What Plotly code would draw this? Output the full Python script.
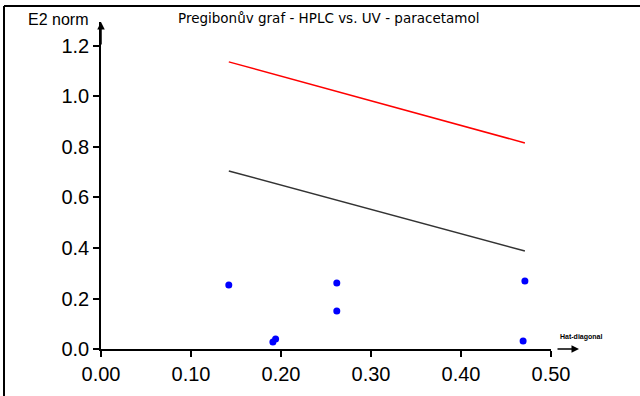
import plotly.graph_objects as go

# Data
hat_diag = [0.142, 0.191, 0.194, 0.262, 0.262, 0.471, 0.469]
e2_norm = [0.253, 0.028, 0.040, 0.261, 0.150, 0.269, 0.032]

limit_x = [0.142, 0.471]
limit_red = [1.137, 0.816]
limit_black = [0.705, 0.388]

x_ticks = [0.0, 0.1, 0.2, 0.3, 0.4, 0.5]
y_ticks = [0.0, 0.2, 0.4, 0.6, 0.8, 1.0, 1.2]

title_text = "Pregibonův graf - HPLC vs. UV - paracetamol"
y_label = "E2 norm"
x_label = "Hat-diagonal"

FONT = "Liberation Sans, Arial, sans-serif"

fig = go.Figure()
fig.add_trace(go.Scatter(x=limit_x, y=limit_red, mode="lines",
                         line=dict(color="#ff0000", width=1.5), showlegend=False))
fig.add_trace(go.Scatter(x=limit_x, y=limit_black, mode="lines",
                         line=dict(color="#333333", width=1.5), showlegend=False))
fig.add_trace(go.Scatter(x=hat_diag, y=e2_norm, mode="markers",
                         marker=dict(color="#0000ff", size=7), showlegend=False,
                         cliponaxis=False))

L, R, T, B = 101, 89, 22, 47
W, H = 640, 396
pw, ph = W - L - R, H - T - B

def px_x(p):
    return (p - L) / pw

def px_y(p):
    return (H - B - p) / ph

fig.update_layout(
    width=W, height=H, autosize=False,
    margin=dict(l=L, r=R, t=T, b=B, pad=0),
    paper_bgcolor="white", plot_bgcolor="white",
    font=dict(family=FONT, color="black"),
    xaxis=dict(range=[0, 0.5], tickvals=x_ticks, tickformat=".2f",
               showgrid=False, zeroline=False, showline=True, linecolor="black",
               linewidth=1.5, ticks="outside", ticklen=6, tickwidth=1.5,
               tickcolor="black", tickfont=dict(size=20, family=FONT)),
    yaxis=dict(range=[0, 1.295], tickvals=y_ticks, tickformat=".1f",
               showgrid=False, zeroline=False, showline=True, linecolor="black",
               linewidth=1.5, ticks="outside", ticklen=6, tickwidth=1.5,
               tickcolor="black", tickfont=dict(size=20, family=FONT)),
)

annotations = [
    dict(text=title_text, xref="paper", yref="paper", x=px_x(328), y=px_y(18),
         xanchor="center", yanchor="middle", showarrow=False,
         font=dict(size=13.5, family="DejaVu Sans, sans-serif")),
    dict(text=y_label, xref="paper", yref="paper", x=px_x(90), y=px_y(20),
         xanchor="right", yanchor="middle", showarrow=False,
         font=dict(size=16, family=FONT)),
    dict(text="<b>" + x_label + "</b>", xref="paper", yref="paper", x=px_x(581), y=px_y(337),
         xanchor="center", yanchor="middle", showarrow=False,
         font=dict(size=7, family=FONT, color="black")),
    # y-axis arrow head
    dict(x=0, y=1.295, ax=0, ay=1.2, xref="x", yref="y", axref="x", ayref="y",
         showarrow=True, arrowhead=2, arrowsize=1, arrowwidth=1.5, arrowcolor="black", text=""),
    # x-axis arrow (beyond the axis end)
    dict(x=px_x(579), y=0, ax=-23, ay=0, xref="paper", yref="paper",
         showarrow=True, arrowhead=2, arrowsize=1,
         arrowwidth=1.5, arrowcolor="black", text=""),
]
fig.update_layout(annotations=annotations)

# frame lines (top and left) of the original window
fig.add_shape(type="line", xref="paper", yref="paper", x0=px_x(4), x1=px_x(640),
              y0=px_y(6), y1=px_y(6), line=dict(color="black", width=2))
fig.add_shape(type="line", xref="paper", yref="paper", x0=px_x(4), x1=px_x(4),
              y0=px_y(6), y1=px_y(396), line=dict(color="black", width=2))

fig.write_html("out.html")
